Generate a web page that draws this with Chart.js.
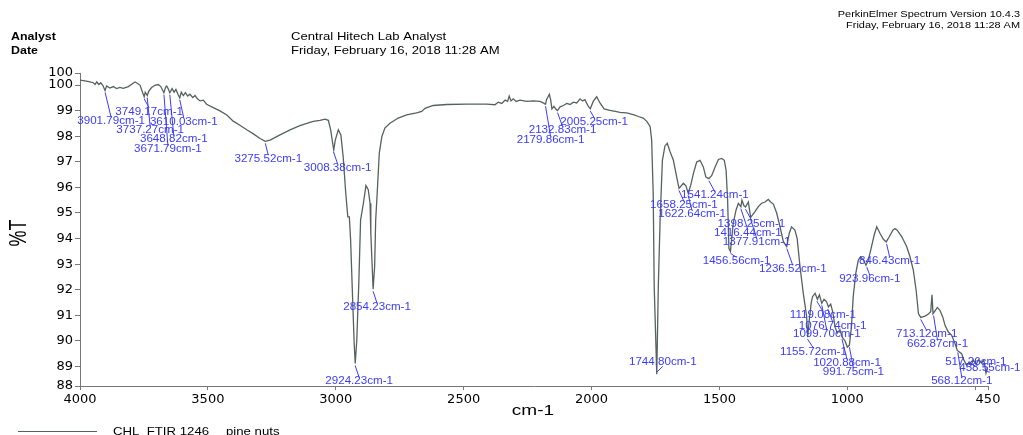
<!DOCTYPE html>
<html>
<head>
<meta charset="utf-8">
<script src="https://cdn.jsdelivr.net/npm/chart.js@4.4.1/dist/chart.umd.min.js"></script>
<style>
  html, body { margin: 0; padding: 0; background: #ffffff; }
  canvas { display: block; }
</style>
</head>
<body>
<canvas id="c" width="1023" height="435"></canvas>
<script>
// ---------- DATA ----------
const wavenumbers = [
  4000,3980,3961,3948,3941,3935,3926,3919,3911,3902,3896,3883,3870,3857,3844,3831,3811,3798,3785,3776,
  3765,3755,3749,3745,3737,3731,3720,3707,3694,3684,3672,3665,3661,3655,3649,3640,3632,3625,3617,3610,
  3604,3596,3588,3579,3570,3559,3550,3541,3531,3518,3505,3479,3453,3426,3401,3375,3348,3322,3296,3276,
  3257,3218,3179,3140,3101,3088,3062,3042,3029,3020,3008,3002,2990,2980,2971,2961,2953,2947,2942,2934,
  2928,2924,2918,2910,2903,2892,2882,2873,2866,2863,2856,2854,2848,2844,2838,2830,2820,2808,2788,2756,
  2723,2684,2664,2651,2619,2566,2488,2410,2378,2365,2351,2338,2328,2322,2315,2306,2295,2280,2254,2228,
  2202,2189,2180,2176,2165,2160,2155,2147,2139,2133,2123,2110,2097,2084,2071,2058,2045,2035,2026,2013,
  2005,1993,1980,1967,1951,1928,1902,1889,1863,1837,1817,1798,1784,1771,1765,1759,1755,1745,1739,1732,
  1723,1713,1704,1693,1680,1667,1658,1641,1631,1622,1612,1602,1589,1576,1563,1553,1541,1530,1517,1504,
  1491,1481,1474,1468,1463,1457,1446,1435,1426,1416,1412,1404,1398,1387,1378,1361,1348,1335,1322,1309,
  1300,1289,1276,1263,1250,1237,1227,1218,1205,1196,1185,1172,1159,1155,1149,1141,1136,1126,1117,1109,
  1100,1091,1081,1074,1065,1057,1048,1039,1029,1020,1009,1000,992,984,977,967,957,948,937,927,
  918,907,895,885,872,859,848,836,822,814,805,787,768,755,742,731,722,713,696,683,
  674,669,665,657,648,638,627,618,605,592,579,570,562,553,544,533,524,517,507,497,
  486,476,466,458,450
];
const transmittance = [
  100.19,100.16,100.12,100.09,100.02,100.12,100.02,100.09,99.99,99.79,99.96,99.88,99.94,99.86,99.91,99.87,99.94,100.03,100.12,100.07,
  99.99,99.70,99.54,99.72,99.59,99.76,99.90,99.99,100.02,99.94,99.70,99.92,99.96,99.85,99.70,99.86,99.72,99.83,99.64,99.50,
  99.72,99.59,99.70,99.57,99.64,99.51,99.59,99.46,99.38,99.41,99.25,99.12,98.99,98.83,98.59,98.43,98.25,98.09,97.91,97.80,
  97.85,98.05,98.25,98.41,98.54,98.58,98.62,98.67,98.62,98.25,97.46,97.85,98.25,98.05,97.19,95.78,94.85,94.85,93.95,91.60,
  89.90,89.12,90.00,92.25,94.72,95.38,96.07,95.91,95.38,94.20,92.52,92.02,92.92,94.72,95.78,97.33,97.98,98.32,98.51,98.71,
  98.83,98.91,98.97,99.09,99.20,99.24,99.25,99.25,99.23,99.33,99.28,99.41,99.36,99.57,99.38,99.46,99.36,99.41,99.36,99.38,
  99.36,99.30,99.25,99.43,99.64,99.43,99.07,99.17,99.05,99.00,99.15,99.20,99.28,99.24,99.33,99.30,99.46,99.38,99.43,99.17,
  99.07,99.37,99.54,99.30,99.07,99.01,98.96,98.93,98.91,98.84,98.77,98.71,98.58,98.38,97.85,95.78,92.12,88.70,92.12,94.72,
  97.06,97.62,97.72,97.39,97.06,96.40,95.96,96.16,96.06,95.77,96.10,96.54,96.99,97.06,96.80,96.40,96.34,96.47,96.80,97.09,
  97.13,97.06,96.67,95.50,93.62,93.50,94.60,95.12,95.38,95.25,95.50,95.28,95.23,95.43,94.83,95.05,95.25,95.38,95.43,95.53,
  95.43,95.35,94.99,94.46,93.88,93.69,94.21,94.46,94.33,94.00,92.90,91.85,90.95,90.15,90.80,91.50,91.73,91.86,91.63,91.80,
  91.47,91.63,91.53,91.33,91.44,91.14,90.54,90.31,90.44,90.15,90.00,89.76,89.83,90.54,91.73,92.64,93.16,93.29,93.16,92.96,
  93.16,93.62,94.14,94.46,94.20,93.97,93.87,94.07,94.33,94.39,94.33,94.07,93.69,93.29,92.77,91.98,91.07,90.92,90.97,91.05,
  91.14,91.80,91.07,91.18,91.31,91.20,90.94,90.61,90.35,90.22,89.90,89.63,89.57,89.50,89.25,89.05,89.18,89.05,89.25,89.09,
  89.28,89.14,89.25,88.74,88.98
];

// annotated peaks (wavenumber, %T read on the curve)
const peakWavenumbers = [3901.79,3749.17,3737.27,3671.79,3648.82,3610.03,3275.52,3008.38,2924.23,2854.23,
  2179.86,2132.83,2005.25,1744.80,1658.25,1622.64,1541.24,1456.56,1416.44,1398.25,1377.91,1236.52,
  1155.72,1119.08,1099.70,1076.74,1020.88,991.75,923.96,846.43,713.12,662.87,568.12,517.26,458.55];
const peakTransmittance = [99.79,99.54,99.59,99.70,99.70,99.50,97.80,97.46,89.12,92.02,
  99.25,99.00,99.07,88.70,95.96,95.77,96.34,93.50,95.25,95.23,94.83,93.69,
  90.15,91.63,91.47,91.33,90.15,89.83,92.96,93.87,90.92,91.07,89.63,89.05,88.74];
// label placement (pixel offset of label centre from the peak) - layout only
const peakLabelOffsets = [[6,31],[5,15],[3,35],[4,57],[4,47],[4,24],[3,18],[4,18],[4,18],[4,18],
  [5,36],[5,20],[4,13],[6,-12],[5,17],[4,21],[6,17],[6,10],[7,27],[6,17],[6,25],[6,23],
  [6,15],[6,16],[5,31],[5,19],[5,26],[4,27],[3,14],[3,19],[6,17],[4,31],[4,31],[5,-3],[4,-5]];

const xTickValues = [4000,3500,3000,2500,2000,1500,1000,500,450];
const xTickLabels = ['4000','3500','3000','2500','2000','1500','1000','','450'];
const yTickValues = [89,90,91,92,93,94,95,96,97,98,99,100];
const yMin = 88.24, yMax = 100.47;

const headerLeft = ['Analyst','Date'];
const headerMid = ['Central Hitech Lab Analyst','Friday, February 16, 2018 11:28 AM'];
const headerRight = ['PerkinElmer Spectrum Version 10.4.3','Friday, February 16, 2018 11:28 AM'];
const legendName = ['CHL_FTIR 1246','pine nuts'];
const xTitle = 'cm-1';
const yTitle = '%T';

// ---------- DRAW ----------
const LINE_COLOR = '#56625f';
const LABEL_COLOR = '#3c3cf2';
const FONT = '"Liberation Sans", Arial, sans-serif';

function stretchText(ctx, txt, x, y, font, align, baseline, sx, color) {
  ctx.save();
  ctx.translate(x, y);
  ctx.scale(sx, 1);
  ctx.font = font;
  ctx.textAlign = align;
  ctx.textBaseline = baseline;
  ctx.fillStyle = color;
  ctx.fillText(txt, 0, 0);
  ctx.restore();
}

const decorPlugin = {
  id: 'decor',
  afterDraw(chart) {
    const ctx = chart.ctx;
    const xs = chart.scales.x, ys = chart.scales.y;
    // header
    stretchText(ctx, headerLeft[0], 11, 39.5, 'bold 11.5px ' + FONT, 'left', 'alphabetic', 1.08, '#000');
    stretchText(ctx, headerLeft[1], 11, 53.5, 'bold 11.5px ' + FONT, 'left', 'alphabetic', 1.08, '#000');
    stretchText(ctx, headerMid[0], 291, 39.5, '11.5px ' + FONT, 'left', 'alphabetic', 1.14, '#000');
    stretchText(ctx, headerMid[1], 291, 53.5, '11.5px ' + FONT, 'left', 'alphabetic', 1.14, '#000');
    stretchText(ctx, headerRight[0], 1020, 17, '9.5px ' + FONT, 'right', 'alphabetic', 1.15, '#000');
    stretchText(ctx, headerRight[1], 1020, 28, '9.5px ' + FONT, 'right', 'alphabetic', 1.15, '#000');
    // axis titles
    stretchText(ctx, xTitle, 533, 415, '15px ' + FONT, 'center', 'alphabetic', 1.27, '#000');
    ctx.save();
    ctx.translate(20, 233);
    ctx.rotate(-Math.PI / 2);
    ctx.scale(1, 1.3);
    ctx.font = '18px ' + FONT;
    ctx.textAlign = 'center';
    ctx.textBaseline = 'middle';
    ctx.fillStyle = '#000';
    ctx.fillText(yTitle, 0, 0);
    ctx.restore();
    // legend
    ctx.save();
    ctx.strokeStyle = LINE_COLOR;
    ctx.lineWidth = 1;
    ctx.beginPath();
    ctx.moveTo(18, 431.5);
    ctx.lineTo(97, 431.5);
    ctx.stroke();
    ctx.restore();
    stretchText(ctx, legendName[0], 113, 432, '11px ' + FONT, 'left', 'middle', 1.2, '#000');
    stretchText(ctx, legendName[1], 226, 432, '11px ' + FONT, 'left', 'middle', 1.2, '#000');
    // peak labels
    ctx.save();
    ctx.strokeStyle = LABEL_COLOR;
    ctx.lineWidth = 1;
    peakWavenumbers.forEach((w, i) => {
      const px = xs.getPixelForValue(w);
      const py = ys.getPixelForValue(peakTransmittance[i]);
      const [dx, dy] = peakLabelOffsets[i];
      const s = dy >= 0 ? 1 : -1;
      ctx.beginPath();
      ctx.moveTo(px, py + 2 * s);
      ctx.lineTo(px + dx, py + dy - 4 * s);
      ctx.stroke();
      stretchText(ctx, w.toFixed(2) + 'cm-1', px + dx, py + dy, '10px ' + FONT, 'center', 'middle', 1.16, LABEL_COLOR);
    });
    ctx.restore();
  }
};

const points = wavenumbers.map((w, i) => ({ x: w, y: transmittance[i] }));

new Chart(document.getElementById('c'), {
  type: 'line',
  data: {
    datasets: [{
      data: points,
      borderColor: LINE_COLOR,
      borderWidth: 1.3,
      pointRadius: 0,
      tension: 0,
      fill: false
    }]
  },
  options: {
    responsive: false,
    animation: false,
    events: [],
    layout: { padding: { left: 30, right: 35, top: 73, bottom: 19 } },
    plugins: { legend: { display: false }, tooltip: { enabled: false }, title: { display: false } },
    scales: {
      x: {
        type: 'linear',
        reverse: true,
        min: 450,
        max: 4000,
        afterBuildTicks: s => { s.ticks = xTickValues.map(v => ({ value: v })); },
        afterFit: s => { s.height = 30; },
        ticks: {
          autoSkip: false,
          maxRotation: 0,
          padding: 2,
          color: '#000',
          font: { family: 'DejaVu Sans', size: 13 },
          callback: v => xTickLabels[xTickValues.indexOf(v)]
        },
        grid: { drawOnChartArea: false, drawTicks: true, tickLength: 4, color: '#777' },
        border: { display: true, color: '#777', width: 1 }
      },
      y: {
        type: 'linear',
        min: yMin,
        max: yMax,
        afterBuildTicks: s => { s.ticks = [yMin, ...yTickValues, yMax].map(v => ({ value: v })); },
        afterFit: s => { s.width = 50; },
        ticks: {
          autoSkip: false,
          padding: 2,
          color: '#000',
          font: { family: 'DejaVu Sans', size: 13 },
          callback: v => String(Math.round(v))
        },
        grid: { drawOnChartArea: false, drawTicks: true, tickLength: 5, color: '#777' },
        border: { display: true, color: '#777', width: 1 }
      }
    }
  },
  plugins: [decorPlugin]
});
</script>
</body>
</html>
